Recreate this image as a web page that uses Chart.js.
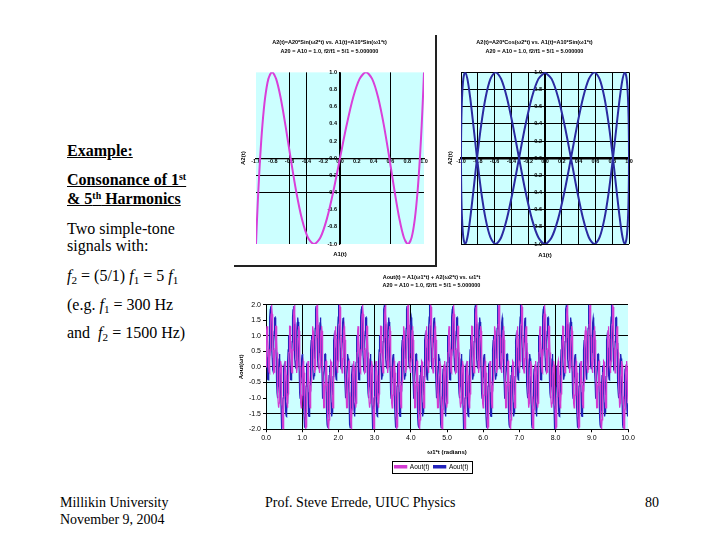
<!DOCTYPE html>
<html><head><meta charset="utf-8">
<script src="https://cdn.jsdelivr.net/npm/chart.js@4.4.0/dist/chart.umd.min.js"></script>
<style>
html,body{margin:0;padding:0;background:#fff;}
body{width:720px;height:540px;position:relative;overflow:hidden;font-family:"Liberation Serif","Times New Roman",serif;color:#000;}
.t{position:absolute;left:67px;font-size:16px;line-height:18px;white-space:nowrap;}
.b{font-weight:bold;text-decoration:underline;}
.f{position:absolute;font-size:14px;line-height:16px;white-space:nowrap;}
sup{font-size:62%;line-height:0;vertical-align:0.55em;}
sub{font-size:70%;line-height:0;vertical-align:-0.3em;}
.box{position:absolute;}
.box canvas{display:block;}
.frame{position:absolute;left:234px;top:35px;width:201px;height:230px;border-right:2px solid #222;border-bottom:2px solid #222;pointer-events:none;}
</style></head>
<body>
<div class="t b" style="top:142px">Example:</div>
<div class="t b" style="top:171px">Consonance of 1<sup>st</sup></div>
<div class="t b" style="top:190px">&amp; 5<sup>th</sup> Harmonics</div>
<div class="t" style="top:220px">Two simple-tone</div>
<div class="t" style="top:237px">signals with:</div>
<div class="t" style="top:267px"><i>f</i><sub>2</sub> = (5/1) <i>f</i><sub>1</sub> = 5 <i>f</i><sub>1</sub></div>
<div class="t" style="top:296px">(e.g. <i>f</i><sub>1</sub> = 300 Hz</div>
<div class="t" style="top:324px">and &nbsp;<i>f</i><sub>2</sub> = 1500 Hz)</div>

<div class="f" style="left:60px;top:495px">Millikin University</div>
<div class="f" style="left:60px;top:512px">November 9, 2004</div>
<div class="f" style="left:265px;top:495px">Prof. Steve Errede, UIUC Physics</div>
<div class="f" style="left:645px;top:495px">80</div>

<div class="box" style="left:235px;top:35px;"><canvas id="cTL" width="201" height="230"></canvas></div>
<div class="box" style="left:440px;top:35px;"><canvas id="cTR" width="200" height="230"></canvas></div>
<div class="box" style="left:235px;top:268px;"><canvas id="cOut" width="410" height="214"></canvas></div>
<div class="frame"></div>

<script>
// ---- values: one full cycle of the slow tone, 80 samples ----
const A1 = [0, 0.0785, 0.1564, 0.2334, 0.3090, 0.3827, 0.4540, 0.5225, 0.5878, 0.6494,
  0.7071, 0.7604, 0.8090, 0.8526, 0.8910, 0.9239, 0.9511, 0.9724, 0.9877, 0.9969,
  1.0000, 0.9969, 0.9877, 0.9724, 0.9511, 0.9239, 0.8910, 0.8526, 0.8090, 0.7604,
  0.7071, 0.6494, 0.5878, 0.5225, 0.4540, 0.3827, 0.3090, 0.2334, 0.1564, 0.0785,
  0, -0.0785, -0.1564, -0.2334, -0.3090, -0.3827, -0.4540, -0.5225, -0.5878, -0.6494,
  -0.7071, -0.7604, -0.8090, -0.8526, -0.8910, -0.9239, -0.9511, -0.9724, -0.9877, -0.9969,
  -1.0000, -0.9969, -0.9877, -0.9724, -0.9511, -0.9239, -0.8910, -0.8526, -0.8090, -0.7604,
  -0.7071, -0.6494, -0.5878, -0.5225, -0.4540, -0.3827, -0.3090, -0.2334, -0.1564, -0.0785];
const A2sin = [0, 0.3827, 0.7071, 0.9239, 1, 0.9239, 0.7071, 0.3827, 0, -0.3827, -0.7071, -0.9239, -1, -0.9239, -0.7071, -0.3827,
  0, 0.3827, 0.7071, 0.9239, 1, 0.9239, 0.7071, 0.3827, 0, -0.3827, -0.7071, -0.9239, -1, -0.9239, -0.7071, -0.3827,
  0, 0.3827, 0.7071, 0.9239, 1, 0.9239, 0.7071, 0.3827, 0, -0.3827, -0.7071, -0.9239, -1, -0.9239, -0.7071, -0.3827,
  0, 0.3827, 0.7071, 0.9239, 1, 0.9239, 0.7071, 0.3827, 0, -0.3827, -0.7071, -0.9239, -1, -0.9239, -0.7071, -0.3827,
  0, 0.3827, 0.7071, 0.9239, 1, 0.9239, 0.7071, 0.3827, 0, -0.3827, -0.7071, -0.9239, -1, -0.9239, -0.7071, -0.3827];
const A2cos = [1, 0.9239, 0.7071, 0.3827, 0, -0.3827, -0.7071, -0.9239, -1, -0.9239, -0.7071, -0.3827, 0, 0.3827, 0.7071, 0.9239,
  1, 0.9239, 0.7071, 0.3827, 0, -0.3827, -0.7071, -0.9239, -1, -0.9239, -0.7071, -0.3827, 0, 0.3827, 0.7071, 0.9239,
  1, 0.9239, 0.7071, 0.3827, 0, -0.3827, -0.7071, -0.9239, -1, -0.9239, -0.7071, -0.3827, 0, 0.3827, 0.7071, 0.9239,
  1, 0.9239, 0.7071, 0.3827, 0, -0.3827, -0.7071, -0.9239, -1, -0.9239, -0.7071, -0.3827, 0, 0.3827, 0.7071, 0.9239,
  1, 0.9239, 0.7071, 0.3827, 0, -0.3827, -0.7071, -0.9239, -1, -0.9239, -0.7071, -0.3827, 0, 0.3827, 0.7071, 0.9239];
const AoutSin = [0, 0.461, 0.864, 1.157, 1.309, 1.307, 1.161, 0.905, 0.588, 0.267,
  0, -0.164, -0.191, -0.071, 0.184, 0.541, 0.951, 1.355, 1.695, 1.921,
  2.000, 1.921, 1.695, 1.355, 0.951, 0.541, 0.184, -0.071, -0.191, -0.164,
  0, 0.267, 0.588, 0.905, 1.161, 1.307, 1.309, 1.157, 0.864, 0.461,
  0, -0.461, -0.864, -1.157, -1.309, -1.307, -1.161, -0.905, -0.588, -0.267,
  0, 0.164, 0.191, 0.071, -0.184, -0.541, -0.951, -1.355, -1.695, -1.921,
  -2.000, -1.921, -1.695, -1.355, -0.951, -0.541, -0.184, 0.071, 0.191, 0.164,
  0, -0.267, -0.588, -0.905, -1.161, -1.307, -1.309, -1.157, -0.864, -0.461];
const AoutCos = [1.000, 1.002, 0.864, 0.616, 0.309, 0, -0.253, -0.401, -0.412, -0.275,
  0, 0.378, 0.809, 1.235, 1.598, 1.848, 1.951, 1.896, 1.695, 1.380,
  1.000, 0.614, 0.281, 0.049, -0.049, 0, 0.184, 0.470, 0.809, 1.143,
  1.414, 1.573, 1.588, 1.446, 1.161, 0.765, 0.309, -0.149, -0.551, -0.845,
  -1.000, -1.002, -0.864, -0.616, -0.309, 0, 0.253, 0.401, 0.412, 0.275,
  0, -0.378, -0.809, -1.235, -1.598, -1.848, -1.951, -1.896, -1.695, -1.380,
  -1.000, -0.614, -0.281, -0.049, 0.049, 0, -0.184, -0.470, -0.809, -1.143,
  -1.414, -1.573, -1.588, -1.446, -1.161, -0.765, -0.309, 0.149, 0.551, 0.845];
const cyclePeriod = 0.6283;   // spacing of the repeating pattern on the ω1*t axis
const unitTicks = [-1.0, -0.8, -0.6, -0.4, -0.2, 0.0, 0.2, 0.4, 0.6, 0.8, 1.0];
const outYTicks = [-2.0, -1.5, -1.0, -0.5, 0.0, 0.5, 1.0, 1.5, 2.0];
const outXTicks = [0, 1, 2, 3, 4, 5, 6, 7, 8, 9, 10];
const seriesNames = ['Aout(t)', 'Aout(t)'];
const titleTL = ['A2(t)=A20*Sin(ω2*t) vs. A1(t)=A10*Sin(ω1*t)', 'A20 = A10 = 1.0, f2/f1 = 5/1 = 5.000000'];
const titleTR = ['A2(t)=A20*Cos(ω2*t) vs. A1(t)=A10*Sin(ω1*t)', 'A20 = A10 = 1.0, f2/f1 = 5/1 = 5.000000'];
const titleOut = ['Aout(t) = A1(ω1*t) + A2(ω2*t) vs. ω1*t', 'A20 = A10 = 1.0, f2/f1 = 5/1 = 5.000000'];

// ---- build library data tables ----
const cycleIdx = A1.map((_, i) => i).concat([0]);
const tlPts = cycleIdx.map(i => ({x: A1[i], y: A2sin[i]}));
const trPts = cycleIdx.map(i => ({x: A1[i], y: A2cos[i]}));
const outSinPts = [], outCosPts = [];
const nOut = Math.ceil(10 / (cyclePeriod / A1.length)) + 1;
for (let n = 0; n < nOut; n++) {
  const i = n % A1.length, x = n * cyclePeriod / A1.length;
  outSinPts.push({x, y: AoutSin[i]});
  outCosPts.push({x, y: AoutCos[i]});
}

// ---- styling helpers ----
Chart.defaults.font.family = '"Liberation Sans", Arial, sans-serif';
Chart.defaults.color = '#000';
const setTicks = list => s => { s.ticks = list.map(v => ({value: v})); };
const showAt = (list, col) => c => (c.tick && list.some(v => Math.abs(v - c.tick.value) < 1e-6)) ? col : 'rgba(0,0,0,0)';
const fmt = v => Number(v).toFixed(1);
const plotBg = { id: 'plotBg', beforeDraw(chart) {
  const {ctx, chartArea: a} = chart; ctx.save(); ctx.fillStyle = '#ccffff';
  ctx.fillRect(a.left, a.top, a.right - a.left, a.bottom - a.top); ctx.restore(); } };
const legendFrame = { id: 'legendFrame', afterDraw(chart) {
  const lg = chart.legend; if (!lg || !lg.legendHitBoxes || !lg.legendHitBoxes.length) return;
  const hb = lg.legendHitBoxes, ctx = chart.ctx;
  const l = Math.min(...hb.map(b => b.left)) - 3, r = Math.max(...hb.map(b => b.left + b.width)) + 3;
  const t = Math.min(...hb.map(b => b.top)) - 2.5, bt = Math.max(...hb.map(b => b.top + b.height)) + 2.5;
  ctx.save(); ctx.strokeStyle = '#000'; ctx.lineWidth = 1; ctx.strokeRect(Math.round(l) + 0.5, Math.round(t) + 0.5, Math.round(r - l), Math.round(bt - t)); ctx.restore(); } };

function titleAxis(pos, text, size, pad) {
  return { type: 'linear', position: pos, min: 0, max: 1, display: true,
    grid: {display: false, drawTicks: false}, border: {display: false}, ticks: {display: false},
    title: {display: true, text, font: {size: 6, weight: 'bold'}, padding: pad},
    afterFit: s => { if (pos === 'left') s.width = size; else s.height = size; } };
}
function crossChart(id, pts, color, title, gx, gy, xBorderW, yTitleTop, xTitleBottom, rightPad) {
  return new Chart(document.getElementById(id), {
    type: 'scatter',
    data: { datasets: [{ data: pts, showLine: true, borderColor: color, borderWidth: 2, pointRadius: 0, tension: 0.3, fill: false }] },
    options: {
      responsive: false, animation: false, events: [],
      layout: { padding: {top: 0, right: rightPad, bottom: 0, left: 0} },
      plugins: { legend: {display: false}, tooltip: {enabled: false},
        title: { display: true, text: title, font: {size: 5.5, weight: 'bold', lineHeight: 1.65}, padding: {top: 3, bottom: 16.2} } },
      scales: {
        x: { type: 'linear', min: -1, max: 1, position: {y: 0}, afterBuildTicks: setTicks(unitTicks),
          ticks: {callback: fmt, font: {size: 5.5, weight: 'bold'}, padding: 0, maxRotation: 0, autoSkip: false},
          grid: {color: showAt(gx, '#000'), lineWidth: 1, drawTicks: false}, border: {color: '#000', width: 1.2} },
        y: { type: 'linear', min: -1, max: 1, position: {x: 0}, afterBuildTicks: setTicks(unitTicks),
          ticks: {callback: v => fmt(v) + '  ', font: {size: 5.5, weight: 'bold'}, padding: 2, autoSkip: false},
          grid: {color: showAt(gy, '#000'), lineWidth: 1, drawTicks: false}, border: {color: '#000', width: xBorderW} },
        yT: titleAxis('left', 'A2(t)', 21, {top: yTitleTop, bottom: 0}),
        xT: titleAxis('bottom', 'A1(t)', 21, {top: 0, bottom: xTitleBottom})
      }
    },
    plugins: [plotBg]
  });
}
crossChart('cTL', tlPts, '#d93fd9', titleTL, [-0.6, -0.4, 0, 0.6], [0, -0.2, -0.4], 1.2, 4.3, 7.4, 12);
crossChart('cTR', trPts, '#2a2aa0', titleTR, unitTicks, unitTicks, 1.2, 6.4, 6.4, 11);
// thicker zero line on the right-hand chart
(function(){ const c = Chart.getChart('cTR'); c.options.scales.x.border.width = 2.5; c.update('none'); })();

new Chart(document.getElementById('cOut'), {
  type: 'scatter',
  data: { datasets: [
    { label: seriesNames[0], data: outSinPts, showLine: true, borderColor: '#d23ad2', backgroundColor: '#d23ad2', borderWidth: 1.3, pointRadius: 0, tension: 0 },
    { label: seriesNames[1], data: outCosPts, showLine: true, borderColor: '#2222bb', backgroundColor: '#2222bb', borderWidth: 1.3, pointRadius: 0, tension: 0 }
  ] },
  options: {
    responsive: false, animation: false, events: [],
    layout: { padding: {top: 0, right: 17, bottom: 2, left: 0} },
    plugins: {
      tooltip: {enabled: false},
      title: { display: true, text: titleOut, font: {size: 5.5, weight: 'bold', lineHeight: 1.35}, padding: {top: 6, bottom: 15.8} },
      legend: { position: 'bottom', labels: { boxWidth: 12, boxHeight: 2, font: {size: 6.5}, padding: 4.25, color: '#000' } }
    },
    scales: {
      x: { type: 'linear', min: 0, max: 10, afterBuildTicks: setTicks(outXTicks),
        ticks: {callback: fmt, font: {size: 7}, padding: 2, maxRotation: 0, autoSkip: false},
        grid: {color: showAt([1, 3, 4, 8], '#000'), tickColor: '#000', tickLength: 3},
        border: {color: '#000', width: 1},
        title: {display: true, text: 'ω1*t (radians)', font: {size: 6, weight: 'bold'}, padding: {top: 0, bottom: 3.1}},
        afterFit: s => { s.height = 30; } },
      y: { type: 'linear', min: -2, max: 2, afterBuildTicks: setTicks(outYTicks),
        ticks: {callback: fmt, font: {size: 7}, padding: 2, autoSkip: false},
        grid: {color: showAt([2, 1, 0, -0.5, -1.5], '#000'), tickColor: '#000', tickLength: 3},
        border: {color: '#000', width: 1},
        title: {display: true, text: 'Aout(ωt)', font: {size: 6, weight: 'bold'}, padding: {top: 3, bottom: 0}},
        afterFit: s => { s.width = 31; } }
    }
  },
  plugins: [plotBg, legendFrame]
});
</script>
</body></html>
